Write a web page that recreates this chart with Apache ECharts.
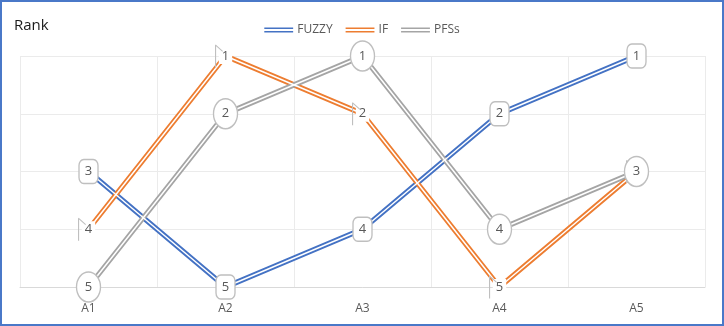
<!DOCTYPE html>
<html>
<head>
<meta charset="utf-8">
<script src="https://cdn.jsdelivr.net/npm/echarts@6/dist/echarts.min.js"></script>
<style>
  html, body { margin: 0; padding: 0; background: #fff; }
  #wrap { position: relative; width: 724px; height: 326px; }
  #chart { width: 724px; height: 326px; }
  #frame { position: absolute; left: 0; top: 0; width: 724px; height: 326px; box-sizing: border-box; border: 2px solid #4a78c8; pointer-events: none; }
</style>
</head>
<body>
<div id="wrap">
  <div id="chart"></div>
  <div id="frame"></div>
</div>
<script>
// 排名数据
var categories = ['A1', 'A2', 'A3', 'A4', 'A5']
var fuzzy = [3, 5, 4, 2, 1]
var intuit = [4, 1, 2, 5, 3]
var pfss = [5, 2, 1, 4, 3]
var rankTicks = [1, 2, 3, 4, 5]

var colors = { FUZZY: '#4472c4', IF: '#ed7d31', PFSs: '#a5a5a5' }
var textGray = '#595959'
var boxGray = '#bfbfbf'

// 双线图例 / 标记形状
var doubleIcon = 'path://M0,0H30V1.6H0ZM0,3.6H30V5.2H0Z'
var flag = 'path://M0,1H1.1V23H0ZM0,1L0.7,0.3L7.9,6.6L7.2,7.3Z'
var ellipse = 'path://M0,15A12,15 0 1,0 24,15A12,15 0 1,0 0,15Z'

function base(name, data) {
  return {
    name: name,
    type: 'line',
    data: data,
    symbol: 'none',
    silent: true,
    z: 2,
    itemStyle: { color: colors[name] },
    lineStyle: { color: colors[name], width: 5.2 },
  }
}
function inner(name, data) {
  return {
    name: name + '_w',
    type: 'line',
    data: data,
    symbol: 'none',
    silent: true,
    z: 3,
    lineStyle: { color: '#fff', width: 1.5 },
  }
}

var labelText = { show: true, position: 'inside', color: textGray, fontFamily: 'Open Sans', fontSize: 13 }

var chart = echarts.init(document.getElementById('chart'))
var option = {
  animation: false,
  title: {
    text: 'Rank',
    left: 9,
    top: 13,
    textStyle: { fontFamily: 'Open Sans', fontWeight: 'normal', fontSize: 15, color: '#1a1a1a' },
  },
  legend: {
    top: 19,
    left: 'center',
    itemWidth: 31,
    itemHeight: 5,
    itemGap: 13,
    icon: doubleIcon,
    textStyle: { fontFamily: 'Open Sans', fontSize: 12, color: textGray, padding: [0, 0, 0, -2] },
    data: ['FUZZY', 'IF', 'PFSs'],
  },
  grid: { left: 20, right: 19, top: 56, bottom: 39 },
  xAxis: {
    type: 'category',
    data: categories,
    boundaryGap: true,
    axisTick: { show: false },
    axisLine: { lineStyle: { color: '#d9d9d9', width: 1 } },
    axisLabel: { color: textGray, fontFamily: 'Open Sans', fontSize: 12, margin: 16 },
    splitLine: { show: true, lineStyle: { color: '#ebebeb', width: 1 } },
  },
  yAxis: {
    type: 'value',
    inverse: true,
    min: rankTicks[0],
    max: rankTicks[rankTicks.length - 1],
    interval: 1,
    axisLabel: { show: false },
    axisLine: { show: false },
    axisTick: { show: false },
    splitLine: { lineStyle: { color: '#ebebeb', width: 1 } },
  },
  series: [
    base('FUZZY', fuzzy),
    base('IF', intuit),
    base('PFSs', pfss),
    inner('FUZZY', fuzzy),
    inner('IF', intuit),
    inner('PFSs', pfss),
    // IF 标签（白底）
    {
      name: 'IF_l',
      type: 'line',
      data: intuit,
      z: 8,
      silent: true,
      lineStyle: { opacity: 0 },
      symbol: 'circle',
      symbolSize: 1,
      itemStyle: { color: 'rgba(0,0,0,0)' },
      label: Object.assign({}, labelText, { backgroundColor: '#fff', padding: [2, 3, 1, 3] }),
    },
    // IF 旗形标记
    {
      name: 'IF_f',
      type: 'line',
      data: intuit,
      z: 9,
      silent: true,
      lineStyle: { opacity: 0 },
      symbol: flag,
      symbolSize: [8, 22.8],
      symbolOffset: [-6.5, 0],
      itemStyle: { color: boxGray },
    },
    {
      name: 'FUZZY_l',
      type: 'line',
      data: fuzzy,
      z: 10,
      silent: true,
      lineStyle: { opacity: 0 },
      symbol: 'roundRect',
      symbolSize: [19, 24],
      itemStyle: { color: '#fff', borderColor: boxGray, borderWidth: 1.5 },
      label: labelText,
    },
    {
      name: 'PFSs_l',
      type: 'line',
      data: pfss,
      z: 11,
      silent: true,
      lineStyle: { opacity: 0 },
      symbol: ellipse,
      symbolSize: [24, 30],
      itemStyle: { color: '#fff', borderColor: boxGray, borderWidth: 1.5 },
      label: labelText,
    },
  ],
}
chart.setOption(option)

window.addEventListener('resize', function () {
  chart.resize()
})
</script>
</body>
</html>
